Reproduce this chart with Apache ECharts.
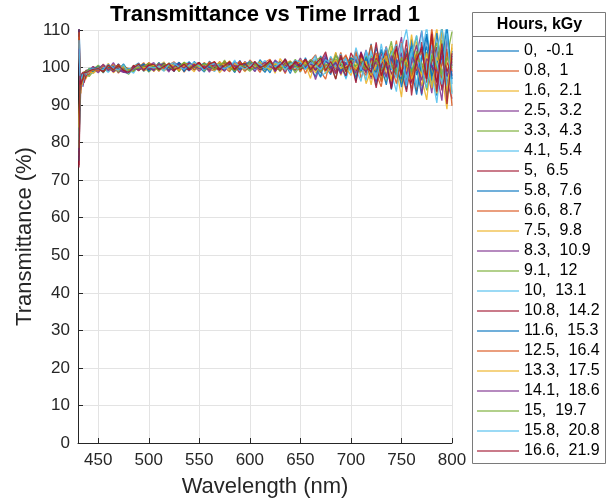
<!DOCTYPE html>
<html>
<head>
<meta charset="utf-8">
<script src="https://cdn.jsdelivr.net/npm/echarts@6/dist/echarts.min.js"></script>
<style>
html, body { margin: 0; padding: 0; background: #fff; }
#main { width: 611px; height: 503px; }
</style>
</head>
<body>
<div id="main"></div>
<script>
// wavelength grid (nm)
const wavelength = [431,432,433,434,435,436,438,441,445,450,455,460,465,470,475,480,485,490,495,500,
  505,510,515,520,525,530,535,540,545,550,555,560,565,570,575,580,585,590,595,600,
  605,610,615,620,625,630,635,640,645,650,655,660,665,670,675,680,685,690,695,700,
  705,710,715,720,725,730,735,740,745,750,755,760,765,770,775,780,785,790,795,800];

// irradiation time (hours) and dose (kGy) for each curve
const hours = [0,0.8,1.6,2.5,3.3,4.1,5,5.8,6.6,7.5,8.3,9.1,10,10.8,11.6,12.5,13.3,14.1,15,15.8,16.6];
const doseKGy = [-0.1,1,2.1,3.2,4.3,5.4,6.5,7.6,8.7,9.8,10.9,12,13.1,14.2,15.3,16.4,17.5,18.6,19.7,20.8,21.9];

// transmittance (%) per curve
const run01 = [114,97.5,94.2,96.1,97.3,96.8,98.9,99.6,99.1,100.4,
  98.6,100.8,99.2,101.0,98.9,98.4,100.3,101.2,99.0,100.9,
  99.2,101.4,99.6,100.8,98.9,101.3,100.2,99.1,101.6,100.0,
  98.8,101.7,100.3,99.0,101.5,100.6,98.7,101.9,99.6,100.9,
  99.1,102.1,100.4,98.6,101.8,100.0,102.3,99.2,101.1,98.8,
  102.6,99.5,97.6,103.1,100.2,98.1,103.8,100.6,97.3,102.4,
  96.4,104.1,99.2,106.3,95.3,101.5,105.2,94.1,100.9,103.6,
  94.2,107.5,99.8,92.6,108.3,101.2,92.5,111.2,97.4,103.1];
const run02 = [76.5,92.1,97.2,95.6,98.3,97.9,97.4,98.4,100.3,99.0,
  100.9,99.0,100.6,98.5,100.4,99.6,99.1,100.0,101.3,99.4,
  100.8,99.0,101.0,100.3,99.5,101.1,98.8,100.6,100.9,99.3,
  101.4,99.5,99.1,101.6,100.0,98.9,101.2,100.4,99.2,102.0,
  100.6,98.7,101.4,102.2,99.3,100.9,98.4,101.7,100.2,102.0,
  98.4,101.7,103.4,99.0,96.9,102.5,100.1,104.0,98.7,100.6,
  103.8,97.2,100.6,106.1,98.4,94.9,102.8,100.1,107.2,96.5,
  101.8,104.6,93.7,100.3,97.1,109.4,99.2,94.8,108.7,100.4];
const run03 = [82.3,95.6,93.1,97.7,95.4,98.6,96.9,99.9,98.4,99.6,
  99.3,101.1,98.6,99.8,100.7,98.7,100.6,99.2,100.2,101.2,
  98.9,100.4,101.5,99.4,100.6,99.0,101.4,100.1,98.9,101.2,
  99.7,100.8,101.6,98.6,100.2,101.8,99.4,100.7,98.9,100.3,
  101.6,99.8,99.0,101.2,98.5,102.4,100.6,99.5,101.9,98.9,
  100.9,97.1,102.3,101.6,98.4,99.8,104.1,97.9,101.5,99.6,
  100.8,102.9,95.7,99.4,103.3,98.9,96.2,105.8,99.6,92.1,
  104.3,98.4,106.9,97.2,91.4,103.7,110.5,97.9,88.9,106.3];
const run04 = [110.8,88.5,96.6,98.1,94.9,97.4,98.6,99.2,99.7,98.6,
  100.2,99.4,101.3,99.1,98.8,99.3,99.5,101.0,99.5,100.5,
  101.3,99.7,100.3,98.8,101.4,100.5,99.6,101.2,100.3,99.0,
  100.6,98.8,101.1,100.7,99.5,101.2,100.8,99.3,101.6,100.4,
  98.9,101.3,100.5,99.7,102.0,100.8,98.8,101.4,100.3,102.5,
  99.8,101.4,96.8,100.9,103.5,99.3,101.0,98.2,102.7,100.3,
  102.4,100.3,104.7,96.9,101.7,99.0,103.9,95.1,102.4,108.1,
  97.6,95.8,103.4,109.7,100.6,93.2,104.8,101.9,96.3,91.7];
const run05 = [79.2,94.3,93.8,96.5,98.0,96.9,98.4,97.6,99.0,99.9,
  98.7,100.5,99.9,100.7,99.5,98.2,100.0,99.6,100.7,98.8,
  100.0,101.2,99.3,100.1,100.9,98.9,101.0,99.8,100.5,101.4,
  99.1,100.2,100.9,99.7,102.0,99.2,100.0,101.3,100.1,99.0,
  100.3,101.6,99.4,100.9,99.9,101.7,99.6,100.1,102.2,99.7,
  101.5,98.9,101.9,102.7,99.4,100.8,97.0,103.2,99.1,102.8,
  98.1,101.6,99.0,103.2,100.4,96.7,101.1,104.5,98.0,101.6,
  96.8,102.9,108.4,98.5,104.2,95.3,100.6,107.3,92.4,102.2];
const run06 = [106.5,97.6,95.7,94.9,97.1,98.4,97.8,98.6,98.6,100.5,
  99.9,98.7,100.2,100.0,99.2,99.5,98.5,100.7,100.0,99.6,
  101.0,100.0,99.0,101.3,100.2,99.7,100.8,101.5,99.4,100.2,
  100.9,101.2,98.9,100.5,101.1,99.8,102.0,99.2,100.6,101.7,
  99.4,100.8,101.9,99.2,100.7,98.9,101.5,100.9,99.0,101.8,
  99.8,100.6,103.2,97.7,98.6,101.9,100.4,103.6,96.9,101.2,
  99.7,96.3,104.6,100.8,97.4,106.3,99.5,98.7,93.6,104.9,
  110.2,100.7,95.5,103.1,111.0,98.1,90.6,103.5,112.0,95.6];
const run07 = [73.4,91.2,97.9,97.3,96.7,95.9,97.8,99.3,99.5,99.2,
  100.6,99.9,98.9,100.3,100.0,98.9,99.8,100.3,99.3,100.8,
  99.6,100.6,100.7,99.2,101.0,100.4,99.3,100.4,101.2,99.8,
  100.3,99.4,101.5,100.1,99.0,101.4,100.5,98.6,101.4,100.0,
  101.4,99.4,100.2,101.5,99.1,100.4,102.3,100.0,99.3,101.1,
  102.2,100.5,99.3,101.6,104.2,98.5,101.9,100.6,97.8,103.9,
  101.3,103.5,98.4,101.0,94.6,102.6,97.7,101.8,105.1,99.2,
  93.5,102.4,99.1,106.8,96.0,101.4,105.5,93.9,101.3,98.8];
const run08 = [112.5,99.4,96.3,97.9,98.5,97.7,98.7,99.6,98.9,99.5,
  99.6,100.3,99.5,99.3,101.0,99.0,100.5,99.4,100.9,100.0,
  99.7,100.5,101.2,99.6,100.4,101.0,98.9,101.5,100.0,100.6,
  99.4,100.5,100.3,101.3,99.6,100.9,98.8,101.0,100.7,99.4,
  101.1,100.2,98.7,101.0,100.5,99.5,100.9,98.4,101.6,100.3,
  99.6,101.7,100.0,97.4,102.8,99.8,100.3,98.9,101.3,100.6,
  97.4,100.9,102.2,98.3,105.4,100.5,95.4,102.6,98.3,97.0,
  105.1,99.4,92.8,101.8,105.6,96.5,109.2,99.1,95.2,104.4];
const run09 = [85.1,97.0,94.8,96.2,97.8,98.8,98.3,98.1,99.9,100.2,
  99.0,99.8,100.8,98.8,99.9,99.8,99.3,100.0,99.8,101.3,
  100.4,99.3,99.9,100.7,101.5,99.3,100.3,99.6,100.8,101.0,
  99.9,101.5,99.6,100.0,101.6,100.2,99.5,101.5,99.2,100.6,
  100.1,100.8,101.3,100.0,99.6,101.3,99.5,100.7,101.9,99.0,
  102.1,98.7,101.0,100.5,99.1,102.7,100.9,99.4,103.0,101.0,
  104.4,99.5,97.9,102.1,100.9,96.1,104.8,101.3,97.6,106.7,
  99.0,94.4,101.7,104.1,98.2,107.8,95.9,100.8,105.0,89.8];
const run10 = [108.2,94.6,97.4,98.4,97.2,97.5,99.2,98.9,98.6,99.7,
  100.7,99.2,99.4,100.4,99.1,99.4,100.2,100.9,99.1,99.6,
  100.7,100.3,99.2,99.9,100.4,100.9,99.5,100.0,100.3,99.4,
  101.2,100.0,99.2,100.8,100.7,101.5,99.9,100.5,101.4,100.2,
  99.8,100.9,99.9,100.4,101.2,98.9,101.0,101.8,99.6,102.0,
  100.7,101.0,98.6,101.2,100.3,101.7,99.7,102.1,100.0,97.9,
  102.0,99.8,101.7,95.4,102.9,104.0,98.8,96.9,103.3,101.7,
  98.9,108.8,100.2,95.1,102.0,99.3,93.1,110.8,100.1,93.4];
const run11 = [77.8,95.8,96.1,97.0,98.6,98.0,98.5,99.4,100.3,99.1,
  99.5,100.1,98.9,100.1,98.7,98.6,100.3,99.7,100.1,100.3,
  99.1,100.9,100.0,101.0,99.3,100.7,100.9,99.2,100.1,100.4,
  100.7,99.9,100.6,99.5,100.6,99.6,101.4,101.0,99.1,100.6,
  100.8,99.3,100.7,101.6,98.9,101.5,100.0,99.7,100.3,101.1,
  100.0,102.0,101.4,98.6,101.7,100.4,98.3,101.5,101.2,100.2,
  98.6,104.2,100.1,99.7,96.3,103.7,100.8,94.6,101.2,103.9,
  95.9,101.5,106.0,93.0,100.0,104.7,98.5,91.2,108.0,97.8];
const run12 = [103.6,98.8,95.4,96.0,97.6,98.9,99.0,99.2,99.4,100.6,
  99.0,99.7,100.4,99.7,100.6,99.1,99.0,100.8,100.4,99.5,
  100.3,99.6,100.9,100.3,99.7,100.1,101.3,100.5,99.5,100.2,
  100.2,100.9,99.8,101.2,100.2,100.7,99.0,100.6,101.1,99.5,
  100.0,101.2,100.6,99.3,100.9,100.0,101.2,100.8,98.6,100.5,
  101.3,99.2,100.7,101.8,100.0,99.6,102.3,100.9,99.7,102.1,
  100.1,98.7,103.0,101.6,99.8,98.1,102.0,107.0,99.4,95.8,
  102.6,97.7,104.4,99.9,93.9,102.9,106.6,96.7,102.7,109.6];
const run13 = [80.7,92.8,97.5,96.9,95.8,98.3,98.1,99.8,99.8,99.2,
  100.3,99.0,100.4,99.4,99.7,99.7,99.9,99.4,100.4,100.1,
  99.9,100.6,100.1,99.4,100.9,100.3,99.8,100.7,100.6,99.6,
  100.5,100.3,101.0,100.8,99.3,100.4,100.8,99.7,100.5,101.1,
  100.4,100.7,101.0,99.6,101.3,101.0,99.8,101.1,100.0,99.7,
  101.0,100.6,102.3,100.4,99.8,103.0,100.2,100.0,102.8,98.5,
  105.3,100.4,96.6,104.3,99.6,102.1,96.8,103.6,106.2,100.6,
  97.3,104.8,94.7,109.9,99.3,95.0,103.9,111.0,94.3,100.9];
const run14 = [111.9,96.9,98.1,97.6,98.8,97.6,99.3,99.0,99.3,99.8,
  98.8,100.6,99.3,100.9,99.2,98.5,100.6,99.1,100.6,99.4,
  100.5,99.4,101.1,100.0,99.0,101.3,100.0,99.4,100.9,101.3,
  99.6,101.0,100.1,99.3,101.2,100.8,99.6,101.7,99.9,100.1,
  101.6,99.6,100.0,101.9,100.3,99.2,101.3,100.2,101.4,99.5,
  100.5,101.5,99.3,100.9,102.0,100.7,96.9,102.7,99.9,101.6,
  99.2,101.5,100.5,97.6,102.5,100.3,105.6,98.2,100.7,98.4,
  103.7,96.2,101.9,105.5,97.5,100.6,96.1,104.6,98.9,102.5];
const run15 = [75.2,94.1,96.0,98.2,97.4,98.5,98.8,99.5,99.7,100.1,
  99.5,99.9,100.1,98.8,100.0,99.5,99.6,100.0,101.0,99.0,
  100.5,99.8,100.4,99.3,100.3,101.4,99.4,100.1,100.3,100.6,
  101.1,100.1,99.6,100.5,100.9,100.0,100.6,99.4,100.8,101.5,
  100.6,100.5,99.4,101.0,100.3,100.8,99.9,101.4,100.2,101.2,
  99.9,100.8,101.1,99.8,101.9,100.0,101.3,99.1,100.8,102.5,
  101.8,99.1,102.7,100.2,98.7,104.8,100.0,99.5,102.1,94.8,
  101.0,105.9,98.0,102.7,108.9,97.7,101.5,102.3,110.4,96.9];
const run16 = [109.4,97.3,94.6,97.4,96.6,98.0,98.6,99.3,99.5,99.1,
  100.4,99.6,99.7,100.6,99.9,98.9,99.9,99.4,99.9,100.5,
  99.5,100.9,99.8,101.0,100.0,99.6,100.9,101.1,99.3,100.8,
  100.0,101.3,99.4,100.5,101.1,99.8,100.3,101.6,99.6,100.3,
  101.1,99.7,100.9,101.6,99.5,100.1,101.0,99.5,100.8,101.7,
  100.8,99.9,101.6,100.3,100.5,101.2,99.5,101.4,103.4,99.2,
  103.1,100.6,99.3,101.9,103.9,97.6,101.3,100.6,95.7,102.8,
  100.4,97.1,103.6,100.9,96.8,110.6,98.8,97.3,104.1,99.1];
const run17 = [84.0,96.4,97.0,95.3,98.1,98.7,98.4,99.0,99.4,99.9,
  99.2,100.5,99.8,99.0,100.2,99.3,99.8,100.1,100.0,100.2,
  100.6,100.1,100.0,101.2,100.4,99.3,100.5,100.3,101.3,100.0,
  100.8,99.3,100.5,101.4,100.6,99.5,101.0,100.6,99.3,100.7,
  100.3,101.4,100.2,99.5,101.0,100.6,99.4,101.0,100.6,101.5,
  101.1,100.5,100.1,101.5,99.6,100.9,102.0,99.8,100.4,101.3,
  99.5,102.4,101.1,97.9,100.7,101.4,103.1,96.3,104.0,99.5,
  102.1,96.9,100.5,98.0,103.8,94.5,102.7,99.6,93.8,105.3];
const run18 = [105.0,93.9,96.4,97.2,97.9,97.8,99.0,99.4,99.6,99.7,
  100.8,99.2,100.2,99.6,98.9,98.8,100.0,99.3,100.6,99.9,
  99.4,101.0,100.3,99.2,100.2,100.9,99.7,101.2,100.5,99.6,
  100.5,99.2,100.7,100.4,99.1,101.4,100.4,99.8,100.6,101.3,
  99.7,100.4,101.4,100.3,99.5,101.0,100.7,99.5,101.0,100.6,
  100.2,101.2,99.4,101.0,102.6,99.7,101.4,98.5,101.0,100.3,
  102.3,100.0,98.9,102.5,101.0,100.2,97.4,103.2,100.1,101.9,
  98.2,102.9,100.7,96.6,102.4,100.3,99.0,103.0,97.7,101.6];
const run19 = [78.6,95.0,95.9,96.7,97.7,98.4,98.9,99.6,99.4,99.8,
  99.1,100.7,99.3,100.5,99.6,99.2,99.7,99.9,100.3,101.1,
  100.1,99.2,100.9,100.3,99.5,100.3,101.4,99.8,100.2,100.5,
  101.0,100.5,99.6,100.6,101.5,100.0,99.2,100.5,100.3,101.4,
  100.9,99.8,100.3,101.5,100.0,99.4,100.9,101.6,100.4,99.8,
  100.6,102.1,100.9,98.8,101.0,100.5,103.1,101.2,98.9,100.9,
  100.4,101.8,99.6,100.8,102.0,99.3,101.2,100.7,98.6,102.4,
  100.9,99.1,102.0,101.3,98.5,103.2,100.2,98.2,102.6,99.9];
const run20 = [107.3,96.6,96.9,97.5,98.2,98.2,98.5,99.2,99.7,99.6,
  99.4,100.9,99.9,99.3,100.7,98.4,99.8,100.6,99.2,100.2,
  99.9,100.3,99.2,100.8,101.3,100.1,99.5,100.6,101.4,100.4,
  99.4,100.8,101.2,100.2,99.7,100.3,101.6,100.3,99.6,100.4,
  101.4,101.0,99.5,100.9,100.2,101.3,99.4,100.8,101.9,101.5,
  99.5,101.3,100.6,99.4,102.1,101.1,99.2,101.8,102.2,98.7,
  103.0,99.4,104.1,100.0,96.9,102.2,105.4,99.8,97.2,106.5,
  95.1,103.4,108.6,99.7,94.6,106.0,101.0,95.5,109.1,93.0];
const run21 = [74.0,97.8,95.5,96.4,97.0,98.8,98.6,99.1,99.5,99.7,
  99.0,100.7,99.4,100.5,99.3,98.7,99.9,100.9,99.2,100.6,
  100.9,99.5,100.2,101.1,99.4,100.0,100.9,99.6,100.4,101.3,
  99.7,100.9,101.5,99.6,100.5,101.6,99.4,100.8,101.1,99.7,
  101.5,100.0,100.6,101.8,99.5,100.7,101.9,99.7,101.7,100.2,
  102.2,99.4,101.0,102.5,99.2,101.6,98.7,103.3,98.9,101.9,
  95.9,103.9,100.2,98.8,106.7,97.8,101.6,94.3,105.7,98.0,
  107.4,92.6,102.3,104.9,97.0,109.0,93.6,106.4,90.3,103.8];

const runs = [run01,run02,run03,run04,run05,run06,run07,run08,run09,run10,run11,
  run12,run13,run14,run15,run16,run17,run18,run19,run20,run21];

// matlab default color order
const colors = ['#0072BD','#D95319','#EDB120','#7E2F8E','#77AC30','#4DBEEE','#A2142F'];

const FONT = '"Liberation Sans", Arial, Helvetica, sans-serif';
const TXT = '#262626';

let myChart = echarts.init(document.getElementById('main'));

let names = hours.map((h, i) => h + ',  ' + doseKGy[i]);

let series = runs.map((vals, i) => ({
  name: names[i],
  type: 'line',
  symbol: 'none',
  clip: true,
  color: colors[i % colors.length],
  lineStyle: { width: 1.3, opacity: 0.85 },
  data: wavelength.map((w, j) => [w, vals[j]])
}));

myChart.setOption({
  animation: false,
  textStyle: { fontFamily: FONT },
  title: {
    text: 'Transmittance vs Time Irrad 1',
    left: 265,
    textAlign: 'center',
    top: 4,
    padding: 0,
    textStyle: { fontFamily: FONT, fontSize: 22, fontWeight: 'bold', color: '#000' }
  },
  grid: { left: 78, right: 159, top: 30, bottom: 57 },
  legend: {
    data: names,
    orient: 'vertical',
    left: 477,
    top: 43,
    padding: 0,
    icon: 'rect',
    itemWidth: 42,
    itemHeight: 1.5,
    itemGap: 4,
    itemStyle: { opacity: 0.75 },
    textStyle: { fontFamily: FONT, fontSize: 16, color: '#000' }
  },
  graphic: [
    {
      type: 'rect',
      shape: { x: 472.5, y: 12.5, width: 133, height: 451 },
      style: { fill: 'none', stroke: '#7a7a7a', lineWidth: 1 }
    },
    {
      type: 'line',
      shape: { x1: 473, y1: 36.5, x2: 605, y2: 36.5 },
      style: { stroke: '#7a7a7a', lineWidth: 1 }
    },
    {
      type: 'text',
      x: 539.5,
      y: 25,
      style: {
        text: 'Hours, kGy',
        align: 'center',
        verticalAlign: 'middle',
        fontFamily: FONT,
        fontSize: 16,
        fontWeight: 'bold',
        fill: '#000'
      }
    }
  ],
  xAxis: {
    type: 'value',
    min: 430,
    max: 800,
    splitNumber: 7,
    name: 'Wavelength (nm)',
    nameLocation: 'middle',
    nameGap: 33,
    nameMoveOverlap: false,
    nameTextStyle: { fontFamily: FONT, fontSize: 22, color: TXT },
    axisLine: { show: true, lineStyle: { color: TXT, width: 1 } },
    axisTick: { show: true, inside: true, length: 5, lineStyle: { color: TXT } },
    splitLine: { show: true, lineStyle: { color: '#e3e3e3', width: 1 } },
    axisLabel: { color: TXT, fontSize: 17, margin: 9, showMinLabel: false }
  },
  yAxis: {
    type: 'value',
    min: 0,
    max: 110,
    interval: 10,
    name: 'Transmittance (%)',
    nameLocation: 'middle',
    nameGap: 42,
    nameMoveOverlap: false,
    nameTextStyle: { fontFamily: FONT, fontSize: 22, color: TXT },
    axisLine: { show: true, lineStyle: { color: TXT, width: 1 } },
    axisTick: { show: true, inside: true, length: 5, lineStyle: { color: TXT } },
    splitLine: { show: true, lineStyle: { color: '#e3e3e3', width: 1 } },
    axisLabel: { color: TXT, fontSize: 17, margin: 8 }
  },
  series: series
});
</script>
</body>
</html>
